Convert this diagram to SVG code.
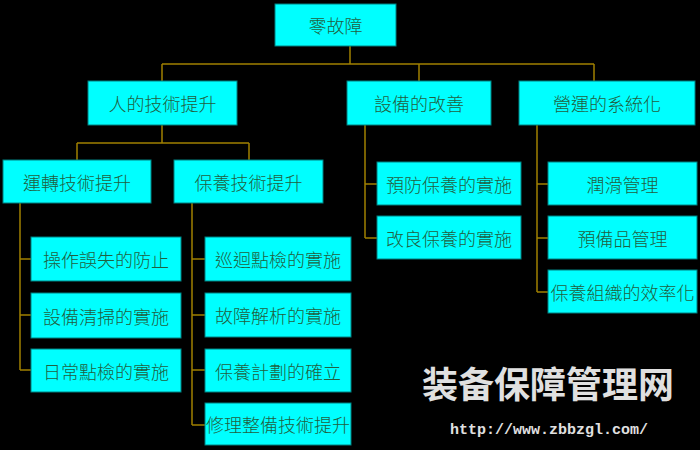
<svg xmlns="http://www.w3.org/2000/svg" width="700" height="450" viewBox="0 0 700 450">
<style>
.b rect{fill:#00ffff;stroke:#008080;stroke-width:1}
.b text{font-family:"Noto Sans CJK TC","Noto Sans CJK SC",sans-serif;font-size:18px;font-weight:300;fill:#206040;text-anchor:middle;dominant-baseline:central}
#c path{fill:none;stroke:#a08000;stroke-width:1.5}
</style>
<rect width="700" height="450" fill="#000"/>
<g id="c">
<path d="M350 46V64M162 64H594M162 64V81M419 64V81M594 64V81"/>
<path d="M162 125V143M77 143H249M77 143V160M249 143V160"/>
<path d="M20 203V370M20 259H31M20 315H31M20 370H31"/>
<path d="M192 203V425M192 259H205M192 315H205M192 370H205M192 425H205"/>
<path d="M365 125V238M365 184H377M365 238H377"/>
<path d="M537 125V292M537 184H548M537 238H548M537 292H548"/>
</g>
<g id="n0" class="b"><rect x="275" y="4" width="121" height="42"/><text x="335.5" y="25">零故障</text></g>
<g id="n1" class="b"><rect x="88" y="81" width="149" height="44"/><text x="162.5" y="103">人的技術提升</text></g>
<g id="n2" class="b"><rect x="347" y="81" width="144" height="44"/><text x="419" y="103">設備的改善</text></g>
<g id="n3" class="b"><rect x="519" y="81" width="176" height="44"/><text x="607" y="103">營運的系統化</text></g>
<g id="n4" class="b"><rect x="3" y="160" width="148" height="43"/><text x="77" y="181.5">運轉技術提升</text></g>
<g id="n5" class="b"><rect x="174" y="160" width="149" height="43"/><text x="248.5" y="181.5">保養技術提升</text></g>
<g id="n6" class="b"><rect x="31" y="237" width="150" height="44"/><text x="106" y="259">操作誤失的防止</text></g>
<g id="n7" class="b"><rect x="31" y="293" width="150" height="45"/><text x="106" y="315.5">設備清掃的實施</text></g>
<g id="n8" class="b"><rect x="31" y="349" width="150" height="43"/><text x="106" y="370.5">日常點檢的實施</text></g>
<g id="n9" class="b"><rect x="205" y="237" width="146" height="44"/><text x="278" y="259">巡迴點檢的實施</text></g>
<g id="n10" class="b"><rect x="205" y="293" width="146" height="44"/><text x="278" y="315">故障解析的實施</text></g>
<g id="n11" class="b"><rect x="205" y="349" width="146" height="43"/><text x="278" y="370.5">保養計劃的確立</text></g>
<g id="n12" class="b"><rect x="205" y="403" width="146" height="42"/><text x="278" y="424">修理整備技術提升</text></g>
<g id="n13" class="b"><rect x="377" y="162" width="144" height="43"/><text x="449" y="183.5">預防保養的實施</text></g>
<g id="n14" class="b"><rect x="377" y="216" width="144" height="43"/><text x="449" y="237.5">改良保養的實施</text></g>
<g id="n15" class="b"><rect x="548" y="162" width="149" height="43"/><text x="622.5" y="183.5">潤滑管理</text></g>
<g id="n16" class="b"><rect x="548" y="216" width="149" height="43"/><text x="622.5" y="237.5">預備品管理</text></g>
<g id="n17" class="b"><rect x="548" y="270" width="149" height="43"/><text x="622.5" y="291.5">保養組織的效率化</text></g>
<text x="548" y="398" font-family="Noto Sans CJK SC,sans-serif" font-size="36" font-weight="bold" fill="#e0e0e0" text-anchor="middle">装备保障管理网</text>
<text x="549" y="434" font-family="Liberation Mono,monospace" font-size="15" font-weight="bold" fill="#e0e0e0" text-anchor="middle">http://www.zbbzgl.com/</text>
</svg>
